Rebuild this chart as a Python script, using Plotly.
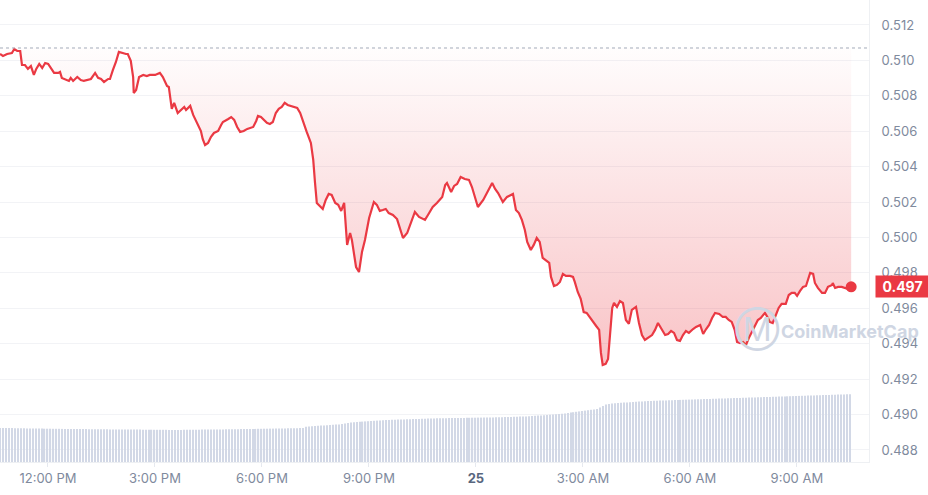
import pandas as pd
import plotly.graph_objects as go

start = pd.Timestamp("2024-05-24 10:39:20")

# minutes after start / price (USD)
minutes = [
    0, 5, 12, 20, 24, 29, 34, 37, 42, 47, 52, 57, 61, 66, 71, 76, 81, 86, 91, 98,
    101, 104, 111, 116, 119, 123, 130, 136, 141, 146, 153, 160, 165, 170, 175, 182, 185, 190, 195, 200,
    205, 212, 215, 220, 224, 225, 229, 234, 241, 247, 252, 261, 269, 274, 281, 284, 289, 293, 299, 304,
    310, 313, 320, 325, 331, 338, 341, 345, 350, 355, 360, 367, 372, 375, 384, 389, 394, 399, 404, 410,
    416, 421, 426, 431, 434, 439, 444, 449, 454, 459, 464, 469, 474, 479, 484, 490, 495, 500, 505, 510,
    516, 523, 527, 530, 533, 538, 543, 548, 553, 558, 564, 569, 574, 579, 582, 584, 589, 592, 599, 604,
    609, 614, 621, 629, 634, 639, 644, 649, 654, 661, 668, 671, 678, 685, 690, 695, 698, 705, 715, 720,
    728, 735, 744, 749, 752, 759, 764, 769, 775, 782, 789, 794, 799, 804, 813, 819, 828, 833, 838, 846,
    853, 863, 868, 873, 878, 883, 887, 893, 898, 903, 908, 913, 918, 924, 927, 932, 937, 942, 947, 952,
    959, 964, 967, 972, 977, 982, 987, 993, 998, 1003, 1008, 1011, 1014, 1019, 1023, 1026, 1030, 1033, 1038, 1043,
    1048, 1053, 1058, 1063, 1070, 1075, 1080, 1085, 1092, 1097, 1102, 1107, 1112, 1119, 1124, 1129, 1134, 1139, 1144, 1149,
    1154, 1159, 1166, 1171, 1178, 1183, 1188, 1193, 1198, 1203, 1210, 1216, 1221, 1226, 1231, 1236, 1240, 1245, 1250, 1255,
    1260, 1265, 1270, 1275, 1280, 1287, 1292, 1295, 1300, 1305, 1310, 1315, 1322, 1327, 1332, 1337, 1341, 1346, 1351, 1356,
    1363, 1368, 1371, 1376, 1383, 1388, 1393, 1400, 1401, 1405, 1410, 1416, 1421, 1427, 1432,
]
price = [
    0.51036, 0.51025, 0.51036, 0.51042, 0.51064, 0.51053, 0.51053, 0.50974, 0.50974, 0.50952,
    0.50968, 0.50918, 0.50952, 0.50980, 0.50957, 0.50985, 0.50980, 0.50957, 0.50929, 0.50929,
    0.50935, 0.50901, 0.50889, 0.50884, 0.50901, 0.50884, 0.50906, 0.50889, 0.50884, 0.50889,
    0.50895, 0.50929, 0.50901, 0.50895, 0.50878, 0.50895, 0.50895, 0.50946, 0.50991, 0.51048,
    0.51042, 0.51036, 0.51036, 0.50997, 0.50906, 0.50816, 0.50833, 0.50906, 0.50918, 0.50912,
    0.50918, 0.50918, 0.50929, 0.50906, 0.50856, 0.50850, 0.50726, 0.50760, 0.50703, 0.50720,
    0.50737, 0.50720, 0.50743, 0.50692, 0.50647, 0.50601, 0.50556, 0.50522, 0.50534, 0.50568,
    0.50590, 0.50601, 0.50635, 0.50652, 0.50669, 0.50680, 0.50664, 0.50624, 0.50596, 0.50601,
    0.50613, 0.50618, 0.50624, 0.50658, 0.50686, 0.50680, 0.50664, 0.50647, 0.50641, 0.50652,
    0.50703, 0.50726, 0.50737, 0.50760, 0.50748, 0.50743, 0.50737, 0.50731, 0.50703, 0.50652,
    0.50596, 0.50534, 0.50438, 0.50308, 0.50195, 0.50178, 0.50161, 0.50212, 0.50246, 0.50240,
    0.50195, 0.50184, 0.50150, 0.50195, 0.50042, 0.49958, 0.50025, 0.49986, 0.49833, 0.49805,
    0.49918, 0.49986, 0.50110, 0.50200, 0.50184, 0.50150, 0.50155, 0.50161, 0.50138, 0.50127,
    0.50104, 0.50071, 0.49997, 0.50025, 0.50071, 0.50110, 0.50144, 0.50116, 0.50099, 0.50127,
    0.50172, 0.50195, 0.50229, 0.50296, 0.50308, 0.50257, 0.50291, 0.50302, 0.50342, 0.50330,
    0.50325, 0.50285, 0.50229, 0.50172, 0.50212, 0.50251, 0.50308, 0.50274, 0.50251, 0.50200,
    0.50229, 0.50246, 0.50155, 0.50138, 0.50099, 0.50042, 0.49975, 0.49929, 0.49958, 0.49997,
    0.49975, 0.49884, 0.49873, 0.49856, 0.49777, 0.49726, 0.49732, 0.49749, 0.49794, 0.49783,
    0.49783, 0.49777, 0.49749, 0.49692, 0.49653, 0.49579, 0.49574, 0.49545, 0.49517, 0.49500,
    0.49478, 0.49348, 0.49280, 0.49286, 0.49314, 0.49461, 0.49602, 0.49630, 0.49608, 0.49641,
    0.49630, 0.49534, 0.49512, 0.49591, 0.49608, 0.49517, 0.49449, 0.49421, 0.49438, 0.49449,
    0.49478, 0.49517, 0.49489, 0.49449, 0.49455, 0.49472, 0.49461, 0.49421, 0.49416, 0.49449,
    0.49472, 0.49461, 0.49483, 0.49495, 0.49506, 0.49455, 0.49483, 0.49506, 0.49545, 0.49574,
    0.49568, 0.49551, 0.49551, 0.49534, 0.49523, 0.49478, 0.49410, 0.49404, 0.49410, 0.49393,
    0.49433, 0.49466, 0.49506, 0.49534, 0.49545, 0.49574, 0.49545, 0.49523, 0.49517, 0.49562,
    0.49602, 0.49625, 0.49625, 0.49675, 0.49687, 0.49687, 0.49670, 0.49698, 0.49721, 0.49726,
    0.49800, 0.49794, 0.49743, 0.49715, 0.49687, 0.49687, 0.49721, 0.49732, 0.49743, 0.49715,
    0.49721, 0.49721, 0.49715, 0.49709, 0.49721,
]
open_price = 0.5107

# 5-minute volume bars, one row per hour
volume = [
    340, 340, 341, 340, 339, 338, 338, 337, 337, 336, 336, 335,
    335, 334, 334, 333, 333, 333, 332, 332, 332, 331, 331, 331,
    330, 330, 330, 329, 329, 329, 328, 328, 328, 327, 327, 327,
    327, 326, 326, 326, 325, 325, 325, 325, 324, 324, 324, 324,
    323, 323, 323, 323, 322, 322, 322, 322, 322, 321, 321, 321,
    321, 321, 322, 322, 322, 323, 323, 323, 324, 324, 324, 325,
    325, 325, 326, 326, 327, 327, 327, 328, 328, 329, 329, 330,
    330, 331, 331, 332, 332, 333, 333, 334, 334, 335, 335, 336,
    336, 337, 337, 338, 338, 339, 340, 352, 356, 358, 360, 362,
    364, 366, 368, 370, 372, 374, 376, 380, 385, 390, 395, 398,
    400, 402, 404, 406, 408, 410, 412, 414, 416, 418, 420, 421,
    422, 423, 424, 425, 426, 427, 428, 429, 430, 431, 432, 433,
    434, 435, 436, 437, 437, 438, 438, 439, 439, 440, 440, 441,
    441, 442, 442, 443, 443, 444, 444, 445, 445, 446, 446, 447,
    447, 448, 449, 450, 451, 452, 453, 454, 455, 456, 458, 460,
    462, 464, 466, 468, 470, 472, 474, 477, 480, 483, 486, 490,
    494, 498, 502, 506, 510, 514, 518, 522, 526, 530, 545, 560,
    575, 580, 585, 588, 590, 592, 594, 596, 598, 600, 602, 604,
    606, 608, 610, 611, 612, 613, 614, 615, 616, 617, 618, 619,
    620, 621, 622, 623, 624, 625, 626, 627, 628, 629, 630, 631,
    632, 633, 634, 635, 636, 637, 638, 639, 640, 641, 642, 643,
    644, 645, 646, 647, 648, 649, 650, 651, 652, 653, 654, 655,
    656, 657, 658, 659, 660, 661, 662, 663, 664, 665, 666, 667,
    668, 669, 670, 671, 672, 673, 674, 675, 676, 677, 678,
]

tick_times = pd.date_range("2024-05-24 12:00", periods=8, freq="3h")
tick_text = ["12:00 PM", "3:00 PM", "6:00 PM", "9:00 PM",
             "<span style='color:#58667e'><b>25</b></span>",
             "3:00 AM", "6:00 AM", "9:00 AM"]

t_price = start + pd.to_timedelta(minutes, unit="min")
t_vol = pd.date_range(start, periods=len(volume), freq="5min")

RED = "#ea3943"
GREY = "#808a9d"

fig = go.Figure()
fig.add_trace(go.Bar(x=t_vol, y=volume, marker_color="#d2d8e6",
                     marker_line_width=0, yaxis="y", hoverinfo="skip"))
fig.add_trace(go.Scatter(x=t_price, y=[open_price] * len(price), mode="lines",
                         line=dict(width=0), yaxis="y2", hoverinfo="skip"))
fig.add_trace(go.Scatter(
    x=t_price, y=price, mode="lines", yaxis="y2",
    line=dict(color=RED, width=2.2),
    fill="tonexty",
    fillgradient=dict(type="vertical", start=min(price), stop=open_price,
                      colorscale=[[0, "rgba(234,57,67,0.30)"],
                                  [1, "rgba(234,57,67,0.01)"]]),
))
fig.add_trace(go.Scatter(x=[t_price[-1]], y=[price[-1]], mode="markers", yaxis="y2",
                         marker=dict(color=RED, size=11)))

fig.add_shape(type="line", xref="paper", x0=0, x1=1, yref="y2",
              y0=open_price, y1=open_price,
              line=dict(color="#a3abb9", width=1, dash="dot"))

fig.add_annotation(xref="paper", x=1, yref="y2", y=price[-1], xanchor="left",
                   xshift=6, text=f"<b>{price[-1]:.3f}</b>", showarrow=False,
                   bgcolor=RED, width=49, height=17, borderpad=2,
                   font=dict(color="white", size=14, family="Inter"))
# watermark
fig.add_annotation(xref="paper", yref="paper", x=0.872, y=0.288, text="Ⓜ",
                   xanchor="center", yanchor="middle", showarrow=False,
                   font=dict(color="#cfd6e3", size=32))
fig.add_annotation(xref="paper", yref="paper", x=0.978, y=0.283,
                   xanchor="center", yanchor="middle",
                   text="<b>CoinMarketCap</b>", showarrow=False,
                   font=dict(color="#cfd6e3", size=18, family="Inter"))

fig.update_layout(
    width=928, height=495,
    margin=dict(l=0, r=59, t=0, b=33),
    paper_bgcolor="white", plot_bgcolor="white",
    showlegend=False, bargap=0.6,
    font=dict(family="Inter", color=GREY, size=13),
    xaxis=dict(range=[start, start + pd.Timedelta(minutes=1462)],
               tickvals=tick_times, ticktext=tick_text, showgrid=False,
               showline=True, linecolor="#eef0f3", ticks="outside", ticklen=4,
               tickcolor="#e6e9ef", tickfont=dict(size=13, color=GREY)),
    yaxis=dict(range=[0, 4620], visible=False),
    yaxis2=dict(overlaying="y", side="right", range=[0.48732, 0.51341],
                tick0=0.488, dtick=0.002, tickformat=".3f",
                showgrid=True, gridcolor="#f2f3f6", zeroline=False,
                showline=True, linecolor="#eef0f3",
                ticks="outside", ticklen=9, tickcolor="rgba(0,0,0,0)",
                tickfont=dict(size=13, color=GREY)),
)

fig.write_html("out.html", config={"displayModeBar": False},
               post_script="document.body.style.margin='0';")
